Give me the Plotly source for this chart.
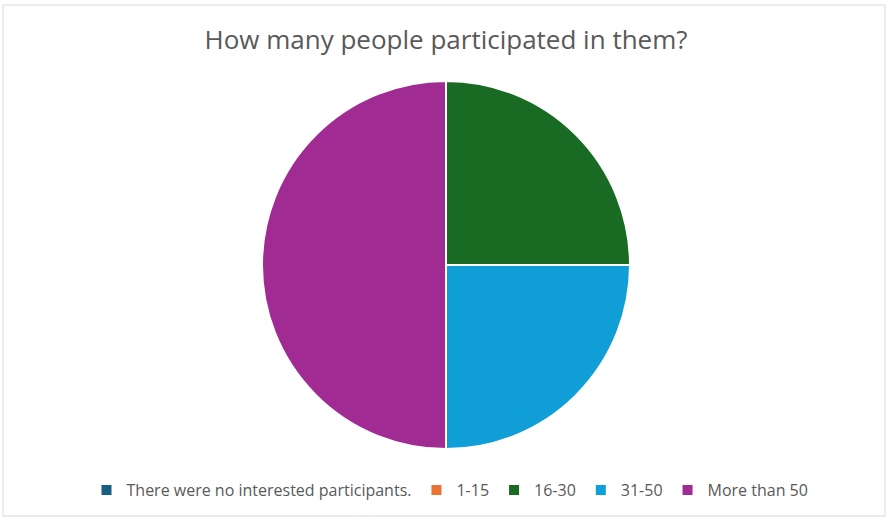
import plotly.graph_objects as go

categories = ["There were no interested participants.", "1-15", "16-30", "31-50", "More than 50"]
values = [0, 0, 1, 1, 2]
colors = ["#156082", "#E97132", "#196B24", "#0F9ED5", "#A02B93"]

W, H = 889, 520
cx, cy, r = 446, 265, 184

fig = go.Figure(go.Pie(
    labels=categories,
    values=values,
    sort=False,
    direction="clockwise",
    rotation=0,
    marker=dict(colors=colors, line=dict(color="white", width=2)),
    textinfo="none",
    hoverinfo="label+value+percent",
    domain=dict(x=[(cx - r) / W, (cx + r) / W], y=[(H - cy - r) / H, (H - cy + r) / H]),
))

fig.update_layout(
    width=W, height=H,
    margin=dict(l=0, r=0, t=0, b=0),
    paper_bgcolor="white",
    font=dict(family="Open Sans, sans-serif", color="#595959"),
    title=dict(text="How many people participated in them?", x=446 / W, xanchor="center",
               y=1 - 40 / H, yanchor="middle", font=dict(size=26, color="#595959")),
    legend=dict(orientation="h", x=450 / W, xanchor="center", y=1 - 490 / H, yanchor="middle",
                font=dict(size=16, color="#595959"), itemwidth=30, traceorder="normal"),
    shapes=[dict(type="rect", xref="paper", yref="paper", x0=3 / W, x1=885 / W, y0=4 / H, y1=1 - 5 / H,
                 line=dict(color="#d9d9d9", width=1))],
)

fig.write_html("out.html", config={"displayModeBar": False},
               post_script="document.body.style.margin='0';")
